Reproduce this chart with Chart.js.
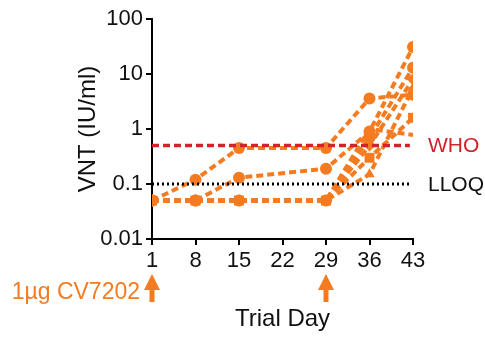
<!DOCTYPE html>
<html>
<head>
<meta charset="utf-8">
<script src="https://cdn.jsdelivr.net/npm/chart.js@4"></script>
<style>
  html, body { margin: 0; padding: 0; background: #fff; }
  #wrap { width: 485px; height: 337px; }
</style>
</head>
<body>
<div id="wrap"><canvas id="vnt-chart"></canvas></div>
<script>
// Trial days sampled per subject
const days = [1, 8, 15, 29, 36, 43];
const xTicks = [1, 8, 15, 22, 29, 36, 43];
const yTicks = [0.01, 0.1, 1, 10, 100];

// VNT titres (IU/ml) per subject
const subj1 = [0.05, 0.12, 0.45, 0.45, 3.6, 4.2];
const subj2 = [0.05, 0.05, 0.13, 0.19, 0.9, 31];
const subj3 = [0.05, 0.05, 0.05, 0.05, 0.3, 1.6];
const subj4 = [0.05, 0.05, 0.05, 0.05, 0.15, 5.6];
const subj5 = [0.05, 0.05, 0.05, 0.05, 0.7, 13];
const subj6 = [0.05, 0.05, 0.05, 0.05, 1.0, 0.78];
const subj7 = [0.05, 0.05, 0.05, 0.05, 0.5, 8];

const whoLevel = 0.5;
const lloqLevel = 0.1;
const doseDays = [1, 29];

const ORANGE = '#f47b20';
const RED = '#d2232a';
const FONT = '"Liberation Sans", Arial, sans-serif';

function toPoints(vals) {
    return vals.map((v, i) => ({ x: days[i], y: v }));
}

function subject(vals, style, radius) {
    return {
        data: toPoints(vals),
        borderColor: ORANGE,
        backgroundColor: ORANGE,
        borderWidth: 4,
        borderDash: [7, 4],
        pointStyle: style,
        pointRadius: radius || 6,
        pointBorderWidth: 0,
        tension: 0
    };
}

function refLine(level, color, dash, width) {
    return {
        data: [{ x: xTicks[0], y: level }, { x: 42.5, y: level }],
        borderColor: color,
        borderWidth: width,
        borderDash: dash,
        pointRadius: 0
    };
}

// labels for reference lines and the dose arrows under the x axis
const annotations = {
    id: 'annotations',
    afterDatasetsDraw(chart) {
        const { ctx, scales: { x, y }, chartArea } = chart;
        ctx.save();
        ctx.font = '21px ' + FONT;
        ctx.textBaseline = 'middle';
        ctx.textAlign = 'left';
        ctx.fillStyle = RED;
        ctx.fillText('WHO', chartArea.right + 15, y.getPixelForValue(whoLevel) + 1);
        ctx.fillStyle = '#111';
        ctx.fillText('LLOQ', chartArea.right + 15, y.getPixelForValue(lloqLevel) + 1);

        // dose arrows
        ctx.fillStyle = ORANGE;
        doseDays.forEach(d => {
            const px = x.getPixelForValue(d);
            ctx.beginPath();
            ctx.moveTo(px, 274);
            ctx.lineTo(px - 8, 290);
            ctx.lineTo(px + 8, 290);
            ctx.closePath();
            ctx.fill();
            ctx.fillRect(px - 2.5, 288, 5, 14);
        });
        ctx.font = '23px ' + FONT;
        ctx.textAlign = 'right';
        ctx.fillText('1\u00b5g CV7202', x.getPixelForValue(doseDays[0]) - 12, 293);
        ctx.restore();
    }
};

const ctx = document.getElementById('vnt-chart').getContext('2d');
new Chart(ctx, {
    type: 'line',
    data: {
        datasets: [
            refLine(whoLevel, RED, [7, 4], 3.5),
            refLine(lloqLevel, '#000', [2, 3], 3),
            subject(subj1, 'circle'),
            subject(subj2, 'circle'),
            subject(subj3, 'rect', 7),
            subject(subj4, 'triangle'),
            subject(subj5, 'circle'),
            subject(subj6, 'star'),
            subject(subj7, 'rectRot')
        ]
    },
    options: {
        responsive: true,
        maintainAspectRatio: false,
        animation: false,
        layout: { padding: { left: 0, right: 72, top: 19, bottom: 0 } },
        plugins: {
            legend: { display: false },
            tooltip: { enabled: false }
        },
        scales: {
            x: {
                type: 'linear',
                min: 1,
                max: 43,
                afterBuildTicks: axis => { axis.ticks = xTicks.map(v => ({ value: v })); },
                afterFit: axis => { axis.height = 98; },
                border: { color: '#000', width: 2 },
                grid: { drawOnChartArea: false, color: '#000', lineWidth: 2, tickLength: 6 },
                ticks: {
                    color: '#111',
                    padding: 3,
                    maxRotation: 0,
                    font: { size: 22, family: FONT }
                },
                title: {
                    display: true,
                    text: 'Trial Day',
                    color: '#111',
                    padding: { top: 0, bottom: 3 },
                    font: { size: 24, family: FONT }
                }
            },
            y: {
                type: 'logarithmic',
                min: 0.01,
                max: 100,
                afterBuildTicks: axis => { axis.ticks = yTicks.map(v => ({ value: v })); },
                afterFit: axis => { axis.width = 152; },
                border: { color: '#000', width: 2 },
                grid: { drawOnChartArea: false, color: '#000', lineWidth: 2, tickLength: 6 },
                ticks: {
                    color: '#111',
                    padding: 3,
                    callback: v => String(v),
                    font: { size: 22, family: FONT }
                },
                title: {
                    display: true,
                    text: 'VNT (IU/ml)',
                    color: '#111',
                    padding: { top: 74, bottom: 0 },
                    font: { size: 24, family: FONT }
                }
            }
        }
    },
    plugins: [annotations]
});
</script>
</body>
</html>
